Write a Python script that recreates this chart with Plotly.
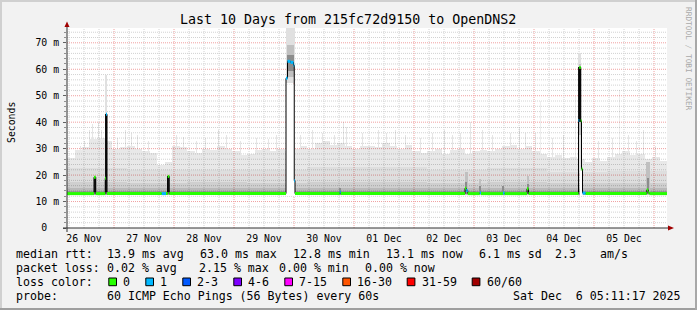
import plotly.graph_objects as go
from datetime import datetime, timedelta

# ---------------- data ----------------
TITLE = "Last 10 Days from 215fc72d9150 to OpenDNS2"
START = datetime(2025, 11, 26, 5, 11, 17)
END = datetime(2025, 12, 6, 5, 11, 17)
Y_TOP = 75.6

day_labels = ["26 Nov", "27 Nov", "28 Nov", "29 Nov", "30 Nov",
              "01 Dec", "02 Dec", "03 Dec", "04 Dec", "05 Dec"]
ytick_vals = [0, 10, 20, 30, 40, 50, 60, 70]
ytick_text = ["0\u00a0\u00a0", "10 m", "20 m", "30 m", "40 m", "50 m", "60 m", "70 m"]

# smoke: upper envelope per 3-hour bin (ms)
smoke_max = [26.5, 29.5, 30.5, 33.5, 34, 33, 30, 30.5,
             31, 30, 29, 28.5, 24, 25, 31, 30.5,
             29, 28.5, 30, 29.5, 31, 30, 29, 27.5,
             28, 29.5, 30, 29, 30, 29, 30, 31,
             30, 32, 33, 31.5, 32, 31, 30, 31,
             31, 30.5, 32, 31, 30, 31.5, 29, 28.5,
             29, 30, 28, 29.5, 30, 28, 29, 29.5,
             29, 30, 31, 31.5, 30, 31, 29, 28,
             27, 27.5, 26.5, 27, 26, 25, 26.5, 25.5,
             27, 28, 29, 27.5, 28, 26, 27, 25.5]
# inner smoke layers per day (ms)
smoke_p80 = [22.5, 22, 22, 22, 23, 23, 22, 22.5, 21, 21.5]
smoke_p60 = [17.5, 17, 17.5, 17, 17.5, 17.5, 17, 17.5, 17, 17]
smoke_p40 = [15.3, 15.1, 15.3, 15.1, 15.3, 15.3, 15.1, 15.3, 15.1, 15.1]
smoke_p20 = [14.0, 13.9, 14.0, 13.9, 14.0, 14.0, 13.9, 14.0, 13.9, 13.9]
SMOKE_FLOOR = 12.4

# single-sample smoke spikes (hours since start, ms)
spike_h = [5.2, 6.8, 8.8, 10.0, 12.4, 13.6, 20.0, 23.2, 25.6, 28.0, 32.4, 43.6, 46.4,
           51.6, 55.2, 60.4, 63.6, 69.2, 75.6, 80.4, 83.6, 93.2, 98.0, 102.0, 106.8,
           110.4, 111.6, 118.0, 124.4, 127.6, 131.2, 135.2, 141.2, 146.0, 150.8, 154.0,
           157.2, 161.2, 166.0, 170.0, 177.2, 180.8, 183.2, 187.2, 194.0, 198.4, 212.4,
           218.0, 224.4, 227.6, 230.4, 235.2]
spike_top = [31, 33, 37, 39.5, 40, 37, 34, 37, 36, 35, 33, 35, 34.5,
             33, 34, 37, 35, 33, 34, 33.5, 35, 35, 37, 36, 35,
             40, 38, 36, 37, 36, 37, 35, 34, 36, 37, 35,
             36, 40, 37, 35, 36, 38, 36, 36, 34, 35, 33,
             34, 35, 33, 37, 31]
faint_h = [189.2, 203.2, 220.8]
faint_top = [48, 50, 52]

# periods without baseline smoke (hours)
gap_start = [87.7, 205.1]
gap_end = [91.1, 206.3]
gap_top = [54, 21.5]

# event smoke (hours, ms, density level 0 light .. 3 black)
ev_start = [15.3, 87.7, 87.9, 88.1, 204.5, 204.6, 109.0, 159.0, 159.2, 165.0, 165.1,
            174.3, 183.8, 184.0, 231.6, 231.8, 10.8, 15.3, 40.3, 204.7]
ev_end = [16.0, 91.0, 90.9, 90.7, 205.4, 205.4, 109.6, 160.4, 160.0, 165.5, 165.4,
          174.9, 184.8, 184.6, 233.0, 232.7, 11.5, 16.0, 40.9, 205.4]
ev_low = [43, 55, 57, 59.5, 22, 35, 12.4, 12.4, 13, 12.4, 13,
          12.4, 12.4, 13, 12.4, 13, 13.6, 13.6, 13.6, 40]
ev_high = [58, 75.6, 69, 65.5, 66, 62, 15, 21.3, 17.5, 18.5, 16,
           16, 19.5, 16.5, 25, 19, 19.2, 43, 19.5, 61]
ev_level = [0, 0, 1, 2, 0, 1, 2, 1, 2, 1, 2,
            2, 1, 2, 1, 2, 3, 3, 3, 3]

# median rtt (hours since start, ms, loss class index)
med_h = [0.0, 10.8, 11.5, 15.3, 15.6, 16.0, 37.9, 39.6, 40.3, 40.9,
         87.6, 88.2, 89.4, 90.6, 90.9, 91.2, 109.1, 109.5,
         159.2, 159.7, 160.3, 165.1, 165.6, 174.4, 175.0, 184.0, 184.6,
         204.6, 204.9, 205.5, 205.8, 206.2, 207.4, 231.9, 232.5, 233.0, 240.0]
med_v = [13.0, 19.2, 13.0, 18.8, 43.0, 13.0, 13.0, 13.0, 19.5, 13.0,
         56.6, 63.0, 62.6, 61.5, 17.9, 13.0, 13.6, 13.0,
         15.0, 14.2, 13.0, 13.3, 13.0, 13.2, 13.0, 14.8, 13.0,
         40.6, 60.7, 40.5, 22.3, 13.2, 13.0, 14.4, 13.3, 13.0, 13.0]
med_loss = [0, 0, 0, 0, 1, 0, 1, 0, 0, 0,
            1, 1, 1, 1, 1, 0, 1, 0,
            0, 1, 0, 1, 0, 1, 0, 0, 0,
            1, 0, 0, 0, 1, 0, 0, 0, 0, 0]

loss_labels = ["0", "1", "2-3", "4-6", "7-15", "16-30", "31-59", "60/60"]
loss_colors = ["#26ff00", "#00b8ff", "#0059ff", "#7e00ff",
               "#ff00ff", "#ff5500", "#ff0000", "#a10000"]

row_rtt = ["median rtt:", "13.9 ms avg", "63.0 ms max", "12.8 ms min",
           "13.1 ms now", "6.1 ms sd", "2.3", "am/s"]
row_loss = ["packet loss:", "0.02 % avg", "2.15 % max", "0.00 % min", "0.00 % now"]
row_probe = ["probe:", "60 ICMP Echo Pings (56 Bytes) every 60s",
             "Sat Dec\u00a0\u00a06 05:11:17 2025"]
WATERMARK = "RRDTOOL / TOBI OETIKER"

# ---------------- layout constants (pixels) ----------------
W, H = 697, 310
PL, PR, PT, PB = 67, 667, 28, 228
FONT = "DejaVu Sans Mono"


def T(h):
    return START + timedelta(hours=h)


def px(x, y):
    return (x - PL) / (PR - PL), (PB - y) / (PB - PT)


fig = go.Figure()


def add_bars(starts, ends, lows, highs, color):
    fig.add_trace(go.Bar(
        x=[T((a + b) / 2) for a, b in zip(starts, ends)],
        y=[max(0.0, hi - lo) for lo, hi in zip(lows, highs)],
        base=list(lows),
        width=[(b - a) * 3600000 for a, b in zip(starts, ends)],
        marker=dict(color=color, line=dict(width=0)),
        hoverinfo="skip", showlegend=False))


n3 = len(smoke_max)
s3 = [3 * i for i in range(n3)]
e3 = [3 * i + 3 for i in range(n3)]
nd = len(smoke_p80)
sd = [24 * i for i in range(nd)]
ed = [24 * i + 24 for i in range(nd)]


def env_at(h):
    return smoke_max[min(n3 - 1, int(h // 3))]


# translucent smoke so the grid below shows through (stacked darkness)
add_bars([h - 0.2 for h in faint_h], [h + 0.2 for h in faint_h],
         [env_at(h) for h in faint_h], faint_top, "rgba(0,0,0,0.065)")
add_bars([h - 0.2 for h in spike_h], [h + 0.2 for h in spike_h],
         [env_at(h) for h in spike_h], spike_top, "rgba(0,0,0,0.10)")
add_bars(s3, e3, [SMOKE_FLOOR] * n3, smoke_max, "rgba(0,0,0,0.09)")
add_bars(sd, ed, [SMOKE_FLOOR] * nd, smoke_p80, "rgba(0,0,0,0.045)")
add_bars(sd, ed, [SMOKE_FLOOR] * nd, smoke_p60, "rgba(0,0,0,0.065)")
add_bars(sd, ed, [SMOKE_FLOOR] * nd, smoke_p40, "rgba(0,0,0,0.10)")
add_bars(sd, ed, [SMOKE_FLOOR] * nd, smoke_p20, "rgba(0,0,0,0.14)")
add_bars(gap_start, gap_end, [SMOKE_FLOOR - 0.3] * len(gap_start), gap_top, "#ffffff")
level_colors = ["#e0e0e0", "#c0c0c0", "#8c8c8c", "#1e1e1e"]
for lv, col in enumerate(level_colors):
    idx = [i for i, l in enumerate(ev_level) if l == lv]
    if idx:
        add_bars([ev_start[i] for i in idx], [ev_end[i] for i in idx],
                 [ev_low[i] for i in idx], [ev_high[i] for i in idx], col)

fig.add_trace(go.Scatter(x=[T(h) for h in med_h], y=med_v, mode="lines",
                         line=dict(color="#000000", width=1, shape="hv"),
                         hoverinfo="skip", showlegend=False))
for k, col in enumerate(loss_colors):
    xs, ys = [], []
    for i in range(len(med_h) - 1):
        if med_loss[i] == k:
            xs += [T(med_h[i]), T(med_h[i + 1]), None]
            ys += [med_v[i], med_v[i], None]
    if xs:
        fig.add_trace(go.Scatter(x=xs, y=ys, mode="lines",
                                 line=dict(color=col, width=3),
                                 hoverinfo="skip", showlegend=False))

shapes = []
for v in range(2, 76, 2):
    shapes.append(dict(type="line", xref="x", yref="y", x0=START, x1=END, y0=v, y1=v,
                       line=dict(color="#f0a0a0" if v % 10 == 0 else "#d2d2d2",
                                 width=1, dash="1px,1px"), layer="below"))
g = datetime(2025, 11, 26, 6, 0, 0)
while g < END:
    shapes.append(dict(type="line", xref="x", yref="y", x0=g, x1=g, y0=0, y1=Y_TOP,
                       line=dict(color="#f0a0a0" if g.hour == 0 else "#d2d2d2",
                                 width=1, dash="1px,1px"), layer="below"))
    g += timedelta(hours=6)

ax0, ay0 = px(63, 228)
ax1, _ = px(669, 228)
shapes.append(dict(type="line", xref="paper", yref="paper", x0=ax0, x1=ax1, y0=ay0, y1=ay0,
                   line=dict(color="#303030", width=1), layer="above"))
yx, yb = px(67, 232)
_, yt = px(67, 25)
shapes.append(dict(type="line", xref="paper", yref="paper", x0=yx, x1=yx, y0=yb, y1=yt,
                   line=dict(color="#303030", width=1), layer="above"))


def tri(points):
    pts = [px(a, b) for a, b in points]
    return "M " + " L ".join(f"{a:.5f},{b:.5f}" for a, b in pts) + " Z"


shapes.append(dict(type="path", xref="paper", yref="paper",
                   path=tri([(64.5, 27), (69.5, 27), (67, 21.5)]),
                   fillcolor="#a00000", line=dict(width=0), layer="above"))
shapes.append(dict(type="path", xref="paper", yref="paper",
                   path=tri([(668, 225.5), (668, 230.5), (674, 228)]),
                   fillcolor="#a00000", line=dict(width=0), layer="above"))

for (a, b, c, d, col) in [(0, 0, W, 2, "#d0d0d0"), (0, 0, 2, H, "#d0d0d0"),
                          (0, H - 2, W, H, "#9f9f9f"), (W - 2, 0, W, H, "#a8a8a8")]:
    x0, y0 = px(a, b)
    x1, y1 = px(c, d)
    shapes.append(dict(type="rect", xref="paper", yref="paper", x0=x0, x1=x1, y0=y1, y1=y0,
                       fillcolor=col, line=dict(width=0), layer="above"))

sw_x = [108.8, 145.8, 182.8, 233.8, 284.8, 342.8, 407.2, 472.2]
lab_x = [123.3, 160.3, 197.3, 248.3, 299.3, 357.3, 421.7, 486.7]
for xs_, col in zip(sw_x, loss_colors):
    x0, y0 = px(xs_, 278)
    x1, y1 = px(xs_ + 7.7, 285.7)
    shapes.append(dict(type="rect", xref="paper", yref="paper", x0=x0, x1=x1, y0=y1, y1=y0,
                       fillcolor=col, line=dict(color="#000000", width=1), layer="above"))

annotations = []


def text(s, x, y, size=11.6, color="#000000", anchor="left", angle=0):
    xp, yp = px(x, y)
    annotations.append(dict(text=s, x=xp, y=yp, xref="paper", yref="paper",
                            xanchor=anchor, yanchor="middle", showarrow=False,
                            textangle=angle, borderpad=0,
                            font=dict(family=FONT, size=size, color=color)))


text(TITLE, 348, 20, size=13.3, anchor="center")
text("Seconds", 11, 123, size=9.8, anchor="center", angle=-90)
text(WATERMARK, 689, 59, size=7.8, color="#a9a9a9", anchor="center", angle=90)

rtt_x = [16, 107, 200, 293, 386, 479.3, 555, 600]
for s, x in zip(row_rtt, rtt_x):
    text(s, x - 1, 254.3)
loss_x = [16, 107.3, 199.3, 279.3, 365]
for s, x in zip(row_loss, loss_x):
    text(s, x - 1, 268)
text("loss color:", 15, 282.3)
for s, x in zip(loss_labels, lab_x):
    text(s, x - 1, 282.3)
probe_x = [16, 107.3, 513.3]
for s, x in zip(row_probe, probe_x):
    text(s, x - 1, 295.7)

fig.update_layout(
    width=W, height=H,
    margin=dict(l=PL, r=W - PR, t=PT, b=H - PB),
    paper_bgcolor="#f2f2f2", plot_bgcolor="#ffffff",
    barmode="overlay", bargap=0,
    showlegend=False,
    shapes=shapes, annotations=annotations,
    xaxis=dict(type="date", range=[START, END], showgrid=False, zeroline=False,
               tickvals=[datetime(2025, 11, 26, 12) + timedelta(days=i) for i in range(len(day_labels))],
               ticktext=day_labels, ticks="", ticklabelstandoff=3,
               tickfont=dict(family=FONT, size=9.8, color="#000000"), showline=False),
    yaxis=dict(range=[0, Y_TOP], showgrid=False, zeroline=False, tickvals=ytick_vals,
               ticktext=ytick_text, ticks="outside", ticklen=3, tickcolor="#606060",
               ticklabelstandoff=2,
               tickfont=dict(family=FONT, size=9.8, color="#000000"), showline=False,
               minor=dict(ticks="outside", ticklen=2, dtick=2, tickcolor="#909090", showgrid=False)),
)

fig.write_html("out.html")
